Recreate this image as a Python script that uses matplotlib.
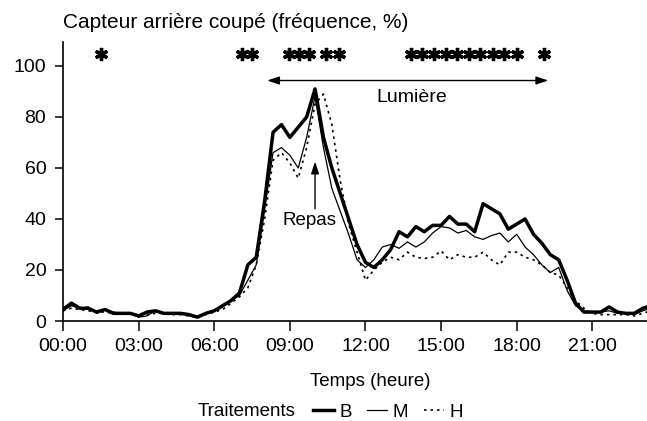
import matplotlib
matplotlib.use('Agg')
import matplotlib.pyplot as plt
import numpy as np

plt.rcParams['font.family'] = ['Liberation Sans', 'DejaVu Sans']

# ============================================
# Données (pas de 20 min)
# ============================================
heures = np.arange(71) / 3

B = [4.5, 7, 5, 5, 3.5, 4.5, 3, 3, 3, 2, 3.5, 4, 3, 3, 3, 2.5, 1.5, 3, 4, 6,
     8, 11, 22, 25, 47, 74, 77, 72, 76, 80, 91, 72, 60, 50, 40, 30, 23, 21, 24, 28,
     35, 33, 37, 35, 37.5, 37.5, 41, 38, 38, 35, 46, 44, 42, 36, 38, 40, 34, 30.5, 26, 24,
     16, 7, 3.5, 3.5, 3.5, 5.5, 3.5, 3, 3, 5, 6]

M = [4, 6, 5, 5.5, 3, 4.5, 3.5, 3, 3, 1.5, 2, 4, 3, 3, 3, 2, 2, 3, 4, 5.5,
     8, 10, 16, 22, 44, 66, 68, 65, 60, 72, 88, 68, 52, 43, 34, 24, 21, 24, 29, 30,
     28.5, 31, 29, 31, 34.5, 37, 36.5, 34.5, 35.5, 33, 32, 33.5, 34.5, 31, 34, 29, 26, 22, 19, 21,
     12, 6, 4, 3.5, 3.5, 4, 3, 3, 2.5, 4, 5]

H = [4, 5, 4.5, 4, 3.5, 3.5, 3, 3, 3, 2.5, 2.5, 3, 3, 2.5, 2.5, 2, 1.5, 2.5, 3.5, 4.5,
     7, 9.5, 13, 22, 40, 63, 66, 62, 56, 68, 85, 89, 77, 55, 38, 27, 16, 20, 23, 25,
     24, 27, 25, 24.5, 25, 27.5, 24, 26, 25, 25, 27, 24, 22, 27, 27, 25, 24, 22, 19, 18,
     13, 8, 5, 3, 2.5, 2.5, 2.5, 2.5, 2, 3, 4]

# heures des différences significatives (*)
etoiles = [1.5, 7.1, 7.5, 8.95, 9.35, 9.75, 10.45, 10.95,
           13.8, 14.25, 14.7, 15.2, 15.65, 16.1, 16.55, 17.05, 17.5, 18.0, 19.1]

xticks = [0, 3, 6, 9, 12, 15, 18, 21]
xlabels = ['00:00', '03:00', '06:00', '09:00', '12:00', '15:00', '18:00', '21:00']
yticks = [0, 20, 40, 60, 80, 100]

# ============================================
# Figure
# ============================================
W, Hpx = 647, 421
fig = plt.figure(figsize=(W / 100, Hpx / 100), dpi=100)
ax = fig.add_axes([63 / W, 1 - 321 / Hpx, 1 - 63 / W, (321 - 42) / Hpx])

lB, = ax.plot(heures, B, color='black', lw=2.5, solid_joinstyle='round')
lM, = ax.plot(heures, M, color='black', lw=0.9)
lH, = ax.plot(heures, H, color='black', lw=1.2, dashes=(1.5, 2.4))

ax.plot(etoiles, [104.5] * len(etoiles), ls='none', marker=(6, 2, 0),
        ms=9.5, mew=2.4, color='black', clip_on=False)

# Lumière
ax.annotate('', xy=(8.1, 94.3), xytext=(19.25, 94.3),
            arrowprops=dict(arrowstyle='<|-|>,head_length=0.6,head_width=0.2',
                            lw=1, color='black', mutation_scale=12,
                            shrinkA=0, shrinkB=0))
ax.text(13.85, 87.5, 'Lumière', ha='center', va='center', fontsize=14)

# Repas
ax.annotate('', xy=(10.0, 62.5), xytext=(10.0, 44),
            arrowprops=dict(arrowstyle='-|>,head_length=0.6,head_width=0.2',
                            lw=1, color='black', mutation_scale=12,
                            shrinkA=0, shrinkB=0))
ax.text(9.77, 39.6, 'Repas', ha='center', va='center', fontsize=13.5)

ax.set_xlim(0, 23.17)
ax.set_ylim(0, 109.4)
ax.set_xticks(xticks)
ax.set_xticklabels(xlabels)
ax.set_yticks(yticks)
ax.tick_params(axis='y', direction='out', length=6, width=1.1, labelsize=14, pad=6)
ax.tick_params(axis='x', direction='out', length=7, width=1.1, labelsize=14, pad=5)
for s in ['top', 'right']:
    ax.spines[s].set_visible(False)
for s in ['left', 'bottom']:
    ax.spines[s].set_linewidth(1.2)

ax.set_xlabel('Temps (heure)', fontsize=13.5)
ax.xaxis.label.set_va('center')
ax.xaxis.set_label_coords((370 - 63) / (W - 63), (321 - 381) / (321 - 42))

fig.text(63 / W, 1 - 22 / Hpx, 'Capteur arrière coupé (fréquence, %)',
         ha='left', va='center', fontsize=15)

# légende
leg = fig.legend([lB, lM, lH], ['B', 'M', 'H'], ncol=3, frameon=False,
                 loc='center left', bbox_to_anchor=(313 / W, 1 - 412 / Hpx),
                 borderpad=0, borderaxespad=0, handlelength=1.1,
                 handletextpad=0.3, columnspacing=0.8, fontsize=13.5)
fig.text(295 / W, 1 - 412 / Hpx, 'Traitements', ha='right', va='center', fontsize=13.5)

plt.savefig('out.png', dpi=100)
